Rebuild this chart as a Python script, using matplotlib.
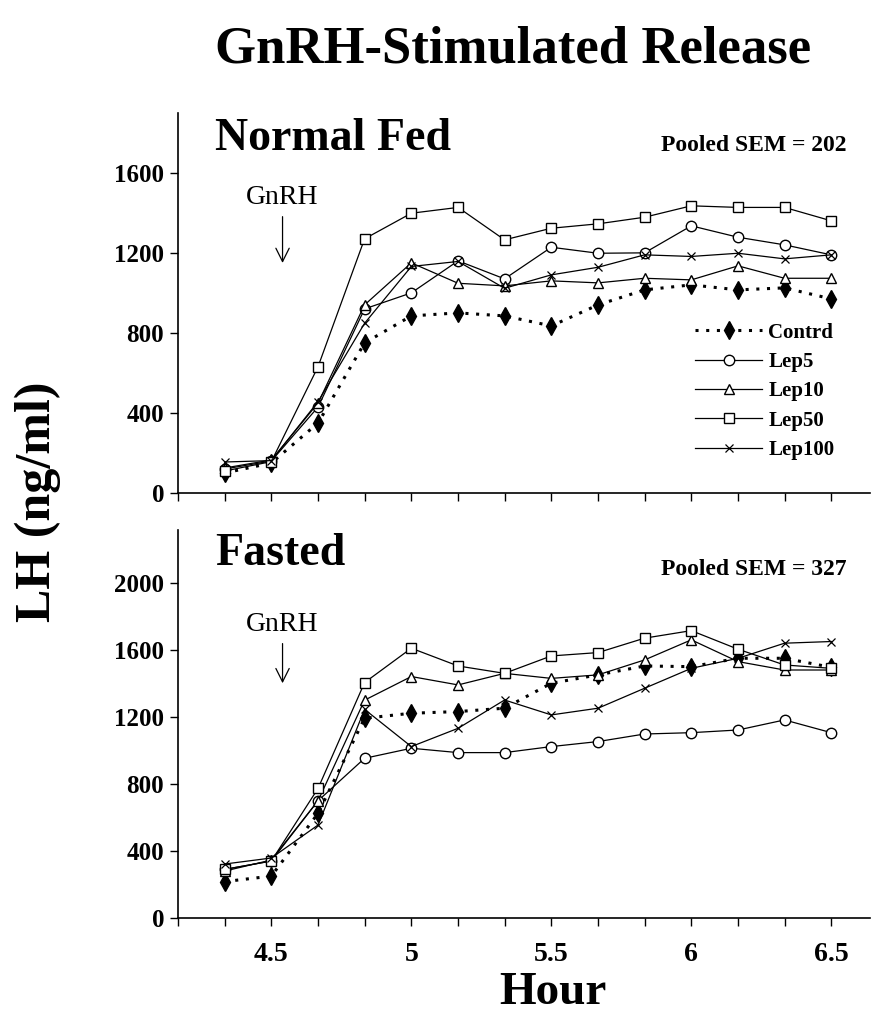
import numpy as np
import matplotlib
matplotlib.use("Agg")
import matplotlib.pyplot as plt

plt.rcParams['font.family'] = ['Liberation Serif', 'DejaVu Serif']

# sampling times (hours), every 10 min
hours = [4.333, 4.5, 4.667, 4.833, 5.0, 5.167, 5.333, 5.5, 5.667, 5.833, 6.0, 6.167, 6.333, 6.5]

# Normal fed
fed_control = [100, 150, 350, 750, 885, 900, 885, 835, 940, 1015, 1040, 1015, 1025, 970]
fed_lep5 = [120, 160, 430, 920, 1000, 1160, 1070, 1228, 1198, 1200, 1335, 1278, 1240, 1190]
fed_lep10 = [125, 165, 450, 940, 1150, 1048, 1035, 1060, 1050, 1073, 1065, 1135, 1073, 1073]
fed_lep50 = [110, 157, 632, 1270, 1398, 1427, 1265, 1323, 1345, 1378, 1435, 1427, 1427, 1360]
fed_lep100 = [155, 162, 457, 848, 1132, 1157, 1023, 1090, 1128, 1190, 1182, 1198, 1170, 1190]

# Fasted
fast_control = [217, 250, 625, 1192, 1222, 1232, 1252, 1401, 1451, 1504, 1500, 1550, 1550, 1496]
fast_lep5 = [290, 340, 700, 953, 1013, 987, 987, 1023, 1053, 1098, 1106, 1122, 1182, 1106]
fast_lep10 = [280, 346, 700, 1300, 1441, 1391, 1460, 1430, 1451, 1540, 1660, 1530, 1480, 1480]
fast_lep50 = [290, 340, 774, 1405, 1610, 1504, 1460, 1564, 1584, 1670, 1715, 1604, 1510, 1490]
fast_lep100 = [322, 358, 555, 1245, 1023, 1132, 1301, 1212, 1252, 1371, 1490, 1550, 1640, 1650]

series_names = ["Contrd", "Lep5", "Lep10", "Lep50", "Lep100"]
xtick_labels = ["4.5", "5", "5.5", "6", "6.5"]

styles = [
    dict(linestyle=(0, (1, 2.5)), linewidth=2.2, marker='d', markersize=9,
         markerfacecolor='black', markeredgecolor='black'),
    dict(linestyle='-', linewidth=0.9, marker='o', markersize=7.5,
         markerfacecolor='white', markeredgecolor='black'),
    dict(linestyle='-', linewidth=0.9, marker='^', markersize=7.5,
         markerfacecolor='white', markeredgecolor='black'),
    dict(linestyle='-', linewidth=0.9, marker='s', markersize=7.5,
         markerfacecolor='white', markeredgecolor='black'),
    dict(linestyle='-', linewidth=0.9, marker='x', markersize=6,
         markeredgecolor='black', markeredgewidth=0.9),
]

fig = plt.figure(figsize=(8.71, 10.25), dpi=100)
ax1 = fig.add_axes([0.2044, 0.519, 0.795, 0.371])
ax2 = fig.add_axes([0.2044, 0.1044, 0.795, 0.3786])

xmin, xmax = 4.1667, 6.64
xticks = 4.1667 + np.arange(15) / 6.0


def setup(ax, ymax, yticks, show_xlabels):
    for s in ['top', 'right']:
        ax.spines[s].set_visible(False)
    for s in ['left', 'bottom']:
        ax.spines[s].set_linewidth(1.2)
    ax.set_xlim(xmin, xmax)
    ax.set_ylim(0, ymax)
    ax.set_xticks(xticks)
    if show_xlabels:
        labs = [''] * len(xticks)
        for i, t in enumerate(xticks):
            for lab in xtick_labels:
                if abs(t - float(lab)) < 0.01:
                    labs[i] = lab
        ax.set_xticklabels(labs)
    else:
        ax.set_xticklabels([])
    ax.set_yticks(yticks)
    ax.tick_params(axis='both', direction='out', length=6, width=1.0, color='black')
    ax.tick_params(axis='x', pad=11, labelsize=20)
    ax.tick_params(axis='y', pad=4, labelsize=18)
    for lab in ax.get_xticklabels() + ax.get_yticklabels():
        lab.set_fontweight('bold')


panels = [
    (ax1, [fed_control, fed_lep5, fed_lep10, fed_lep50, fed_lep100], 1900,
     [0, 400, 800, 1200, 1600], "Normal Fed", 0.903, "Pooled SEM = 202", 0.90, 0.745, False),
    (ax2, [fast_control, fast_lep5, fast_lep10, fast_lep50, fast_lep100], 2316,
     [0, 400, 800, 1200, 1600, 2000], "Fasted", 0.91, "Pooled SEM = 327", 0.884, 0.725, True),
]

for ax, data, ymax, yticks, name, name_y, sem, sem_y, gn_y, show_x in panels:
    handles = []
    for vals, lab, st in zip(data, series_names, styles):
        h, = ax.plot(hours, vals, color='black', label=lab, clip_on=False, **st)
        handles.append(h)
    setup(ax, ymax, yticks, show_x)
    ax.text(0.053, name_y, name, transform=ax.transAxes, fontsize=33, fontweight='bold',
            va='baseline', ha='left')
    ax.text(0.965, sem_y, sem, transform=ax.transAxes, fontsize=17, fontweight='bold',
            va='baseline', ha='right')
    ax.annotate("GnRH", xy=(4.54, ymax * 0.605), xytext=(4.54, ymax * gn_y),
                ha='center', va='bottom', fontsize=20,
                arrowprops=dict(arrowstyle='->', color='black', lw=0.9,
                                mutation_scale=24, shrinkA=3, shrinkB=0))
    if ax is ax1:
        ax.legend(handles=handles, loc='upper left', bbox_to_anchor=(0.735, 0.47),
                  frameon=False, handlelength=3.2, handletextpad=0.3,
                  labelspacing=0.45, borderaxespad=0,
                  prop={'family': 'Liberation Serif', 'weight': 'bold', 'size': 15})

fig.text(0.589, 0.952, "GnRH-Stimulated Release", ha='center', va='center',
         fontsize=38, fontweight='bold')
fig.text(0.044, 0.51, "LH (ng/ml)", ha='center', va='center', rotation=90,
         fontsize=36, fontweight='bold')
fig.text(0.635, 0.031, "Hour", ha='center', va='center', fontsize=34, fontweight='bold')

fig.savefig("out.png", dpi=100)
